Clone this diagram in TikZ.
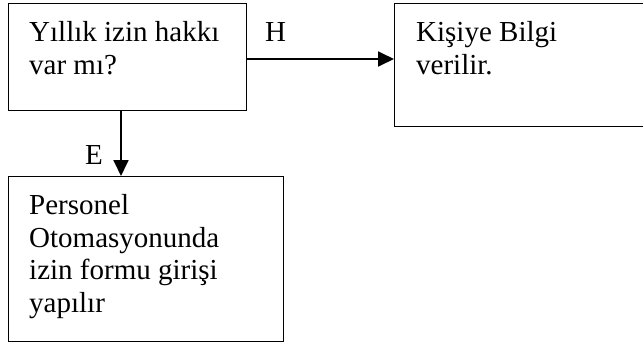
\documentclass[tikz,border=0pt]{standalone}
\usepackage{fontspec}
\setmainfont{Liberation Serif}
\usetikzlibrary{arrows.meta,calc}

\tikzset{
  flowbox/.style={draw=black, line width=1.2pt, fill=white, anchor=north west, inner sep=0pt},
  boxtext/.style={anchor=north west, inner sep=0pt, align=left,
                  font=\fontsize{29}{32.8}\selectfont},
  branch/.style={anchor=base west, inner sep=0pt, font=\fontsize{29}{32.8}\selectfont},
  flow/.style={draw=black, line width=1.8pt, -{Triangle[length=16pt,width=15pt]}}
}

\begin{document}
\begin{tikzpicture}[x=1pt, y=-1pt]
  \clip (0,0) rectangle (643,343);
  \useasboundingbox (0,0) rectangle (643,343);

  % decision box
  \node[flowbox, minimum width=238pt, minimum height=107pt] (q) at (8,3) {};
  \node[boxtext] (qtxt) at ($(q.north west)+(21,18)$) {Yıllık izin hakkı\\var mı?};

  % "no" branch: inform the person
  \node[flowbox, minimum width=266pt, minimum height=123pt] (info) at (394,3) {};
  \node[boxtext] (infotxt) at ($(info.north west)+(22,18)$) {Kişiye Bilgi\\verilir.};

  % "yes" branch: enter leave form
  \node[flowbox, minimum width=275pt, minimum height=165pt] (form) at (8,176) {};
  \node[boxtext] (formtxt) at ($(form.north west)+(21,18)$)
    {Personel\\Otomasyonunda\\izin formu girişi\\yapılır};

  % connectors
  \coordinate (hy) at (0,59);
  \coordinate (vx) at (121,0);
  \draw[flow] (q.east |- hy) -- (info.west |- hy);
  \draw[flow] (q.south -| vx) -- (form.north -| vx);

  % branch labels
  \node[branch] (lblH) at (265,41.7) {H};
  \node[branch] (lblE) at (85,164) {E};
\end{tikzpicture}
\end{document}
